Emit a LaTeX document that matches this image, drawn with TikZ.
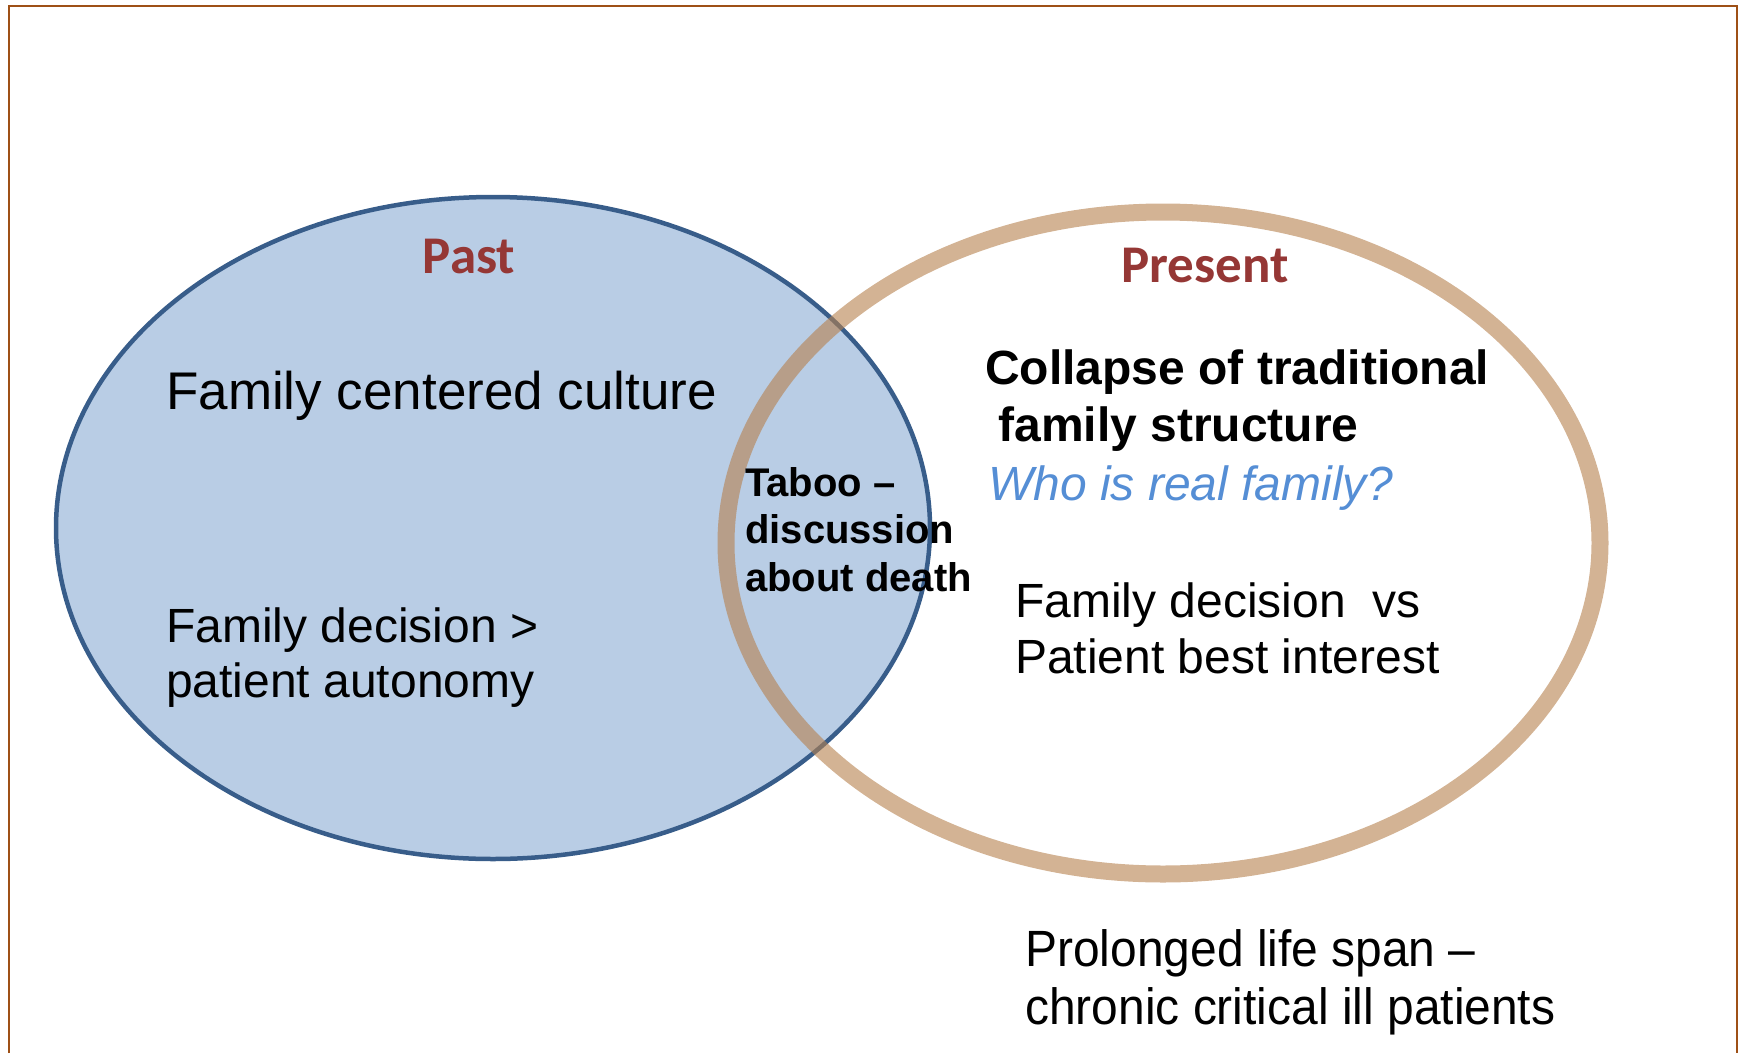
\documentclass[tikz,border=0pt]{standalone}
\usepackage{fontspec}
\setmainfont{Liberation Sans}
\newfontfamily\headfont{Carlito}
\newfontfamily\narrowfont[FakeStretch=0.94,Ligatures=TeX]{Liberation Sans}
\usepackage{tikz}
\usetikzlibrary{shapes.geometric}
\usetikzlibrary{positioning}
\definecolor{pastfill}{RGB}{185,205,229}
\definecolor{pastline}{RGB}{56,93,138}
\definecolor{presentline}{RGB}{182,128,77}
\definecolor{headred}{RGB}{149,55,53}
\definecolor{askblue}{RGB}{85,142,213}
\definecolor{framebrown}{RGB}{158,80,22}
\tikzset{
    venn/.style={
           ellipse,
           minimum width=874pt,
           minimum height=662pt,
           inner sep=0pt,
           outer sep=0pt,
           },
    heading/.style={
           font=\headfont\bfseries\fontsize{53}{60}\selectfont,
           text=headred,
           inner sep=0pt,
           anchor=base,
           },
    remark/.style={
           inner sep=0pt,
           anchor=base west,
           },
}

\begin{document}
\begin{tikzpicture}[x=1pt,y=-1pt]
      \useasboundingbox (0,0) rectangle (1741,1053);

      % FRAME
      % open at the bottom, runs out of the page
      \coordinate (FRAME_BL) at (9,1053);
      \coordinate (FRAME_TL) at (9,6);
      \coordinate (FRAME_TR) at (1737,6);
      \coordinate (FRAME_BR) at (1737,1053);
      \draw[framebrown, line width=2.2pt]
          (FRAME_BL) -- (FRAME_TL) -- (FRAME_TR) -- (FRAME_BR);

      % CIRCLE PAST
      % filled, drawn first
      \node[venn,
          draw=pastline,
          line width=4.5pt,
          fill=pastfill] (PAST) at (493,528) {};

      % CIRCLE PRESENT
      % thick ring on top, half transparent
      \node[venn,
          draw=presentline,
          draw opacity=0.6,
          line width=17pt,
          right of=PAST,
          node distance=670pt,
          yshift=-15pt,
          anchor=center] (PRESENT) {};

      % HEADINGS
      \node[heading] (PAST_TITLE) at (469,273) {Past};
      \node[heading] (PRESENT_TITLE) at (1205,282) {Present};

      % TEXT PAST
      \node[remark,
          font=\fontsize{53}{61}\selectfont] (CULTURE) at (166,409)
      {Family centered culture};

      \node[remark,
          font=\fontsize{48}{55}\selectfont] (AUTONOMY) at (166,642)
      {\begin{tabular}[t]{@{}l@{}}
          Family decision >\\
          patient autonomy
      \end{tabular}};

      % TEXT OVERLAP
      \node[remark,
          font=\bfseries\fontsize{40}{47.5}\selectfont] (TABOO) at (745,496)
      {\begin{tabular}[t]{@{}l@{}}
          Taboo --\\
          discussion\\
          about death
      \end{tabular}};

      % TEXT PRESENT
      \node[remark,
          font=\bfseries\fontsize{48}{57}\selectfont] (COLLAPSE) at (985,384)
      {\begin{tabular}[t]{@{}l@{}}
          Collapse of traditional\\
          \ family structure
      \end{tabular}};

      \node[remark,
          font=\itshape\fontsize{48}{55}\selectfont,
          text=askblue] (WHO) at (988,500)
      {Who is real family?};

      \node[remark,
          font=\fontsize{48}{56}\selectfont] (INTEREST) at (1015,617)
      {\begin{tabular}[t]{@{}l@{}}
          Family decision\ \ vs\\
          Patient best interest
      \end{tabular}};

      % TEXT BELOW
      \node[remark,
          font=\narrowfont\fontsize{51}{58}\selectfont] (LIFESPAN) at (1025,966)
      {\begin{tabular}[t]{@{}l@{}}
          Prolonged life span \textendash\\
          chronic critical ill patients
      \end{tabular}};

\end{tikzpicture}
\end{document}
